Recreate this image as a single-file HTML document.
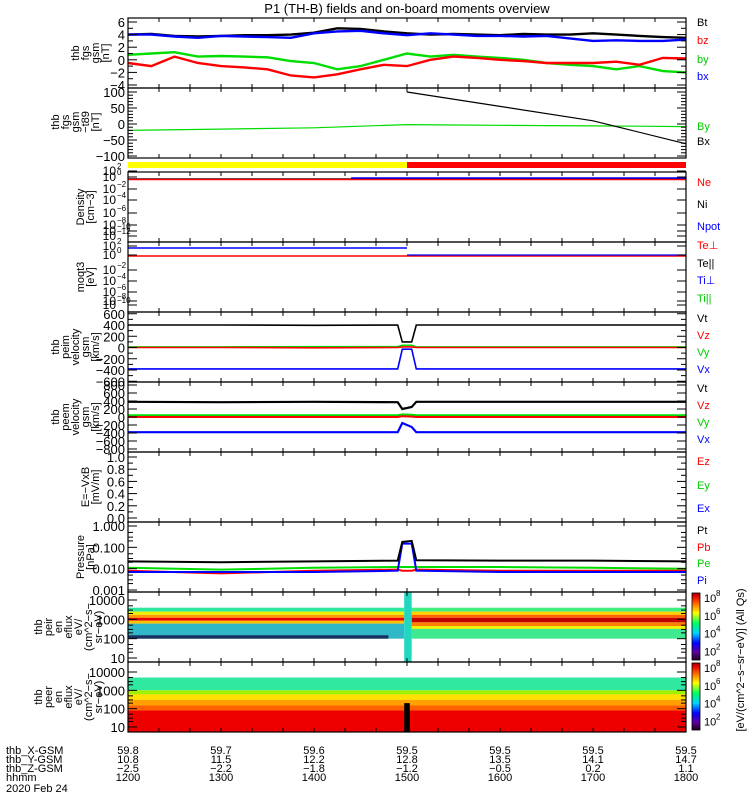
<!DOCTYPE html>
<html><head><meta charset="utf-8"><style>
html,body{margin:0;padding:0;background:#fff;width:750px;height:800px;overflow:hidden}
svg{font-family:"Liberation Sans",sans-serif;display:block}
</style></head><body>
<svg id="chart" width="750" height="800" viewBox="0 0 750 800" xmlns="http://www.w3.org/2000/svg">
<text x="407" y="13" font-size="13" text-anchor="middle">P1  (TH-B) fields and on-board moments overview</text>
<g id="marks"></g>
<g id="axes"></g>
</svg>
<script>
// ---- data ----
const hours = [12,12.25,12.5,12.75,13,13.25,13.5,13.75,14,14.25,14.5,14.75,15,15.25,15.5,15.75,16,16.25,16.5,16.75,17,17.25,17.5,17.75,18];
const bt = [4.0,4.1,3.8,3.7,3.8,3.9,3.9,4.0,4.3,5.0,4.9,4.5,4.2,4.0,4.1,4.0,3.9,4.1,4.0,4.0,4.2,4.0,3.8,3.6,3.5];
const bz = [-0.5,-1.0,0.5,-0.5,-1.0,-1.2,-1.5,-2.5,-2.8,-2.3,-1.5,-0.8,-1.0,0.0,0.5,0.3,0.0,-0.2,-0.5,-0.5,-0.5,-0.3,-0.8,0.3,0.2];
const by = [0.8,1.0,1.2,0.5,0.6,0.5,0.4,-0.2,-0.5,-1.5,-1.0,0.0,1.0,0.5,0.8,0.5,0.3,0.0,-0.5,-0.8,-1.0,-1.5,-1.0,-1.8,-2.0];
const bx = [4.0,4.0,3.7,3.5,3.8,3.7,3.6,3.5,4.2,4.5,4.6,4.2,3.9,4.2,4.0,3.8,3.8,3.7,3.8,3.4,3.0,3.1,3.0,3.0,3.2];
const tsgHours = [12,13,14,15,15.5,16,16.5,17,17.5,18];
const tsgBy = [-20,-16,-12,-2,-3,-4,-5,-6,-7,-8];
const tsgBxHours = [15,16,17,18];
const tsgBx = [100,55,10,-62];
const vHours = [12,13,14,14.9,14.95,15.05,15.1,16,17,18];
const vimT = [400,400,395,400,100,100,400,400,400,400];
const vimZ = [0,0,-5,0,10,10,0,0,0,0];
const vimY = [10,10,15,15,40,40,10,10,10,10];
const vimX = [-380,-380,-380,-380,-30,-30,-380,-380,-380,-380];
const vemT = [380,370,380,370,200,250,380,380,380,380];
const vemZ = [0,0,0,0,20,10,0,0,0,0];
const vemY = [40,40,40,40,60,50,40,40,40,40];
const vemX = [-380,-380,-380,-380,-150,-250,-380,-380,-380,-380];
const pHours = [12,13,14,14.9,14.95,15.05,15.1,16,17,18];
const pt = [0.022,0.020,0.022,0.024,0.18,0.2,0.025,0.024,0.024,0.022];
const pe = [0.011,0.009,0.011,0.012,0.012,0.012,0.012,0.012,0.011,0.010];
const pb = [0.008,0.006,0.008,0.009,0.008,0.008,0.009,0.008,0.008,0.008];
const pi = [0.007,0.007,0.007,0.008,0.15,0.15,0.008,0.007,0.007,0.007];
const ionBandsLeft = [[4000,2500,'#2ee8a0'],[2500,1700,'#f0f000'],[1700,1200,'#ff9a00'],[1200,850,'#e80000'],[850,600,'#ffc000'],[600,100,'#30b8c8']];
const ionBandsRight = [[4000,2500,'#40ee80'],[2500,1700,'#ffd000'],[1700,1200,'#ff6000'],[1200,700,'#c00000'],[700,450,'#ff8000'],[450,320,'#f0f000'],[320,100,'#40e890']];
const eBandsAll = [[5000,1000,'#30e8a0'],[1000,600,'#a0f000'],[600,300,'#ffe000'],[300,150,'#ffa000'],[150,80,'#ff6000'],[80,5,'#ee0000']];
const ticksX = [1200,1300,1400,1500,1600,1700,1800];
const xgsm = ['59.8','59.7','59.6','59.5','59.5','59.5','59.5'];
const ygsm = ['10.8','11.5','12.2','12.8','13.5','14.1','14.7'];
const zgsm = ['-2.5','-2.2','-1.8','-1.2','-0.5','0.2','1.1'];

// ---- helpers ----
const NS='http://www.w3.org/2000/svg';
const marks=document.getElementById('marks'), axes=document.getElementById('axes');
const X0=128,X1=686;
const xs=h=>X0+(h-12)/6*(X1-X0);
function mk(tag,attrs,parent){const e=document.createElementNS(NS,tag);for(const k in attrs)e.setAttribute(k,attrs[k]);parent.appendChild(e);return e;}
function line(xv,yv,yf,color,name,w){
  const pts=xv.map((h,i)=>xs(h).toFixed(1)+','+yf(yv[i]).toFixed(1)).join(' ');
  const p=mk('polyline',{points:pts,fill:'none',stroke:color,'stroke-width':w||1.6},marks);
  
  
}
function lin(v0,y0,v1,y1){return v=>y0+(v-v0)*(y1-y0)/(v1-v0);}
function logs(v0,y0,v1,y1){const a=Math.log10(v0),b=Math.log10(v1);return v=>y0+(Math.log10(v)-a)*(y1-y0)/(b-a);}
function txt(x,y,s,opts,name){const t=mk('text',Object.assign({x:x,y:y,'font-size':11},opts||{}),axes);t.textContent=s;return t;}
function panel(top,bot,name){
  const r=mk('rect',{x:X0,y:top,width:X1-X0,height:bot-top,fill:'none',stroke:'#000','stroke-width':1.2},axes);
  
  for(let h=12;h<=18.001;h+=1/3){const x=xs(h);mk('line',{x1:x,y1:top,x2:x,y2:top+4,stroke:'#000'},axes);mk('line',{x1:x,y1:bot,x2:x,y2:bot-4,stroke:'#000'},axes);}
}
function yticks(top,bot,yf,vals,labels,minor){
  vals.forEach((v,i)=>{const y=yf(v);mk('line',{x1:X0,y1:y,x2:X0+9,y2:y,stroke:'#000'},axes);mk('line',{x1:X1,y1:y,x2:X1-9,y2:y,stroke:'#000'},axes);
    txt(X0-3,y+5,labels[i],{'text-anchor':'end','font-size':13},'y-tick-label');});
  (minor||[]).forEach(v=>{const y=yf(v);mk('line',{x1:X0,y1:y,x2:X0+5,y2:y,stroke:'#000'},axes);mk('line',{x1:X1,y1:y,x2:X1-5,y2:y,stroke:'#000'},axes);});
}
function ylabel(cx,cy,lines,name){
  const g=mk('g',{transform:`translate(${cx},${cy}) rotate(-90)`},axes);
  
  lines.forEach((s,i)=>{const t=mk('text',{x:0,y:(i-(lines.length-1)/2)*10+4,'font-size':11,'text-anchor':'middle'},g);t.textContent=s;});
}
function rlabel(y,s,c){txt(697,y,s,{fill:c,'font-size':11},'legend-'+s.toLowerCase().replace(/[^a-z]/g,'')||'legend');}

// ---- panel 1: fgs gsm ----
let f=lin(6,22,-4,85);
line(hours,bt,f,'#000','series-bt',2.4);line(hours,bx,f,'#0000ff','series-bx',2.4);line(hours,by,f,'#00dd00','series-by',2.4);line(hours,bz,f,'#ff0000','series-bz',2.4);
panel(18,88,'panel-fgs-gsm');
yticks(18,88,f,[6,4,2,0,-2,-4],['6','4','2','0','−2','−4'],[5,3,1,-1,-3]);
ylabel(90,53,['thb','fgs','gsm','[nT]'],'y-title-fgs');
rlabel(26,'Bt','#000');rlabel(44,'bz','#f00');rlabel(63,'by','#0c0');rlabel(80,'bx','#00f');

// ---- panel 2: fgs - t89 ----
f=lin(100,92,-100,156);
line(tsgHours,tsgBy,f,'#00dd00','series-by-t89',1.2);
line(tsgBxHours,tsgBx.map(v=>Math.min(v,110)),v=>Math.max(88,f(v)),'#000','series-bx-t89',1.2);
panel(88,158,'panel-fgs-t89');
yticks(88,158,f,[100,50,0,-50,-100],['100','50','0','−50','−100'],[90,80,70,60,40,30,20,10,-10,-20,-30,-40,-60,-70,-80,-90]);
ylabel(75,122,['thb','fgs','gsm','−t89','[nT]'],'y-title-fgs-t89');
rlabel(130,'By','#0c0');rlabel(145,'Bx','#000');

// mode bar
let b=mk('rect',{x:X0,y:162,width:xs(15)-X0,height:6,fill:'#ffff00'},marks);
b=mk('rect',{x:xs(15),y:162,width:X1-xs(15),height:6,fill:'#ff0000'},marks);

// ---- panel 3: density ----
line([12,18],[179,179],v=>v,'#000','series-ni',1.4);
line([12,18],[179.5,179.5],v=>v,'#ff0000','series-ne',1.4);
line([14.4,18],[178,178],v=>v,'#0000ff','series-npot',1.4);
panel(172,242,'panel-density');
[['10','2',175],['10','0',181],['10','−2',193],['10','−4',204],['10','−6',217],['10','−8',229],['10','−10',235],['10','−12',240]].forEach(a=>{
  mk('line',{x1:X0,y1:a[2]-4,x2:X0+9,y2:a[2]-4,stroke:'#000'},axes);mk('line',{x1:X1,y1:a[2]-4,x2:X1-9,y2:a[2]-4,stroke:'#000'},axes);
  txt(X0-12,a[2],a[0],{'text-anchor':'end','font-size':12},'y-tick-label');txt(X0-11,a[2]-6,a[1],{'font-size':8},'y-tick-exp');});
ylabel(85,207,['Density','[cm−3]'],'y-title-density');
rlabel(186,'Ne','#f00');rlabel(208,'Ni','#000');rlabel(230,'Npot','#00f');

// ---- panel 4: moqt3 ----
line([12,15],[248,248],v=>v,'#0000ff','series-ti-perp',1.4);
line([12,18],[256,256],v=>v,'#ff0000','series-te-perp',1.4);
line([15,18],[255,255],v=>v,'#0000ff','series-ti-par',1.2);
panel(242,312,'panel-temperature');
[['10','2',250],['10','0',259],['10','−2',274],['10','−4',285],['10','−6',296],['10','−8',305],['10','−10',309]].forEach(a=>{
  mk('line',{x1:X0,y1:a[2]-4,x2:X0+9,y2:a[2]-4,stroke:'#000'},axes);mk('line',{x1:X1,y1:a[2]-4,x2:X1-9,y2:a[2]-4,stroke:'#000'},axes);
  txt(X0-12,a[2],a[0],{'text-anchor':'end','font-size':12},'y-tick-label');txt(X0-11,a[2]-6,a[1],{'font-size':8},'y-tick-exp');});
ylabel(85,277,['moqt3','[eV]'],'y-title-temperature');
rlabel(249,'Te⊥','#f00');rlabel(267,'Te||','#000');rlabel(284,'Ti⊥','#00f');rlabel(302,'Ti||','#0c0');

// ---- panel 5: peim velocity ----
f=lin(400,325,-400,370);
line(vHours,vimY,f,'#00dd00','series-vim-y');line(vHours,vimZ,f,'#ff0000','series-vim-z');
line(vHours,vimT,f,'#000','series-vim-t');line(vHours,vimX,f,'#0000ff','series-vim-x');
panel(312,382,'panel-peim-velocity');
yticks(312,382,f,[600,400,200,0,-200,-400,-600],['600','400','200','0','−200','−400','−600'],[500,300,100,-100,-300,-500]);
ylabel(75,347,['thb','peim','velocity','gsm','[km/s]'],'y-title-peim');
rlabel(322,'Vt','#000');rlabel(339,'Vz','#f00');rlabel(356,'Vy','#0c0');rlabel(373,'Vx','#00f');

// ---- panel 6: peem velocity ----
f=lin(400,401,-400,433);
line(vHours,vemY,f,'#00dd00','series-vem-y',2.4);line(vHours,vemZ,f,'#ff0000','series-vem-z',2);
line(vHours,vemT,f,'#000','series-vem-t',2.2);line(vHours,vemX,f,'#0000ff','series-vem-x',2.2);
panel(382,452,'panel-peem-velocity');
yticks(382,452,f,[800,600,400,200,0,-200,-400,-600,-800],['800','600','400','200','0','−200','−400','−600','−800'],[]);
ylabel(75,417,['thb','peem','velocity','gsm','[km/s]'],'y-title-peem');
rlabel(392,'Vt','#000');rlabel(409,'Vz','#f00');rlabel(426,'Vy','#0c0');rlabel(443,'Vx','#00f');

// ---- panel 7: E field ----
f=lin(1,457,0,518);
panel(452,522,'panel-efield');
yticks(452,522,f,[1,0.8,0.6,0.4,0.2,0],['1.0','0.8','0.6','0.4','0.2','0.0'],[0.9,0.7,0.5,0.3,0.1]);
ylabel(90,487,['E=−VxB','[mV/m]'],'y-title-efield');
rlabel(465,'Ez','#f00');rlabel(489,'Ey','#0c0');rlabel(512,'Ex','#00f');

// ---- panel 8: pressure ----
f=logs(1,526,0.001,590);
line(pHours,pe,f,'#00dd00','series-pe',2);line(pHours,pb,f,'#ff0000','series-pb',2);line(pHours,pi,f,'#0000ff','series-pi',2);line(pHours,pt,f,'#000','series-pt',2);
panel(522,592,'panel-pressure');
yticks(522,592,f,[1,0.1,0.01,0.001],['1.000','0.100','0.010','0.001'],[0.5,0.3,0.2,0.05,0.03,0.02,0.005,0.003,0.002]);
ylabel(85,557,['Pressure','[nPa]'],'y-title-pressure');
rlabel(534,'Pt','#000');rlabel(551,'Pb','#f00');rlabel(567,'Pe','#0c0');rlabel(584,'Pi','#00f');

// ---- spectrograms ----
function spec(top,bot,yf,bands,h0,h1,name){
  bands.forEach(bd=>{const y0=Math.max(top,yf(bd[0])),y1=Math.min(bot,yf(bd[1]));
    const r=mk('rect',{x:xs(h0),y:y0,width:xs(h1)-xs(h0),height:y1-y0,fill:bd[2]},marks);
    });
}
f=logs(10000,600,10,658);
spec(592,662,f,ionBandsLeft,12,14.97,'ion-spectrum-cell');
spec(592,662,f,ionBandsRight,15.05,18,'ion-spectrum-cell');
let sb=mk('rect',{x:xs(14.97),y:592,width:xs(15.05)-xs(14.97),height:70,fill:'#20d8c0'},marks);
sb=mk('rect',{x:X0,y:f(150),width:xs(14.8)-X0,height:f(100)-f(150),fill:'#1a3060'},marks);
panel(592,662,'panel-ion-spectrogram');
yticks(592,662,f,[10000,1000,100,10],['10000','1000','100','10'],[5000,3000,2000,500,300,200,50,30,20]);
ylabel(68,627,['thb','peir','en','eflux','eV/','(cm^2−s−','sr−eV)'],'y-title-peir');

f=logs(10000,672,10,727);
spec(662,732,f,eBandsAll,12,18,'electron-spectrum-cell');
sb=mk('rect',{x:xs(14.97),y:f(200),width:xs(15.03)-xs(14.97),height:732-f(200),fill:'#000'},marks);
panel(662,732,'panel-electron-spectrogram');
yticks(662,732,f,[10000,1000,100,10],['10000','1000','100','10'],[5000,3000,2000,500,300,200,50,30,20]);
ylabel(68,697,['thb','peer','en','eflux','eV/','(cm^2−s−','sr−eV)'],'y-title-peer');

// colorbars
const defs=mk('defs',{},axes);
const gr=mk('linearGradient',{id:'cb',x1:0,y1:1,x2:0,y2:0},defs);
[['0','#200020'],['0.12','#6000a0'],['0.25','#0000ff'],['0.4','#00d0ff'],['0.55','#00ff60'],['0.7','#ffff00'],['0.85','#ff6000'],['0.95','#e00000'],['1','#a00000']].forEach(s=>mk('stop',{offset:s[0],'stop-color':s[1]},gr));
[[593,660],[663,730]].forEach((c,i)=>{const r=mk('rect',{x:692,y:c[0],width:8,height:c[1]-c[0],fill:'url(#cb)',stroke:'#000','stroke-width':0.8},axes);
  
  [['8',0],['6',0.27],['4',0.53],['2',0.8]].forEach(l=>{const y=c[0]+4+l[1]*(c[1]-c[0]);txt(704,y+5,'10',{'font-size':11},'colorbar-tick');txt(716,y-1,l[0],{'font-size':8},'colorbar-exp');});});
const cbt=mk('text',{transform:'translate(744,660) rotate(-90)','font-size':11,'text-anchor':'middle'},axes);
cbt.textContent='[eV/(cm^2−s−sr−eV)] (All Qs)';

// ---- bottom labels ----
const rows=[['thb_X-GSM',xgsm,750],['thb_Y-GSM',ygsm,759],['thb_Z-GSM',zgsm,768],['hhmm',ticksX.map(String),777]];
rows.forEach(r=>{txt(6,r[2]+4,r[0],{'font-size':11},'row-label');
  r[1].forEach((v,i)=>txt(xs(ticksX[i]/100),r[2]+4,v.replace('-','−'),{'font-size':11,'text-anchor':'middle'},'x-tick-label'));});
txt(6,792,'2020 Feb 24',{'font-size':11},'date-label');
</script>
</body></html>
